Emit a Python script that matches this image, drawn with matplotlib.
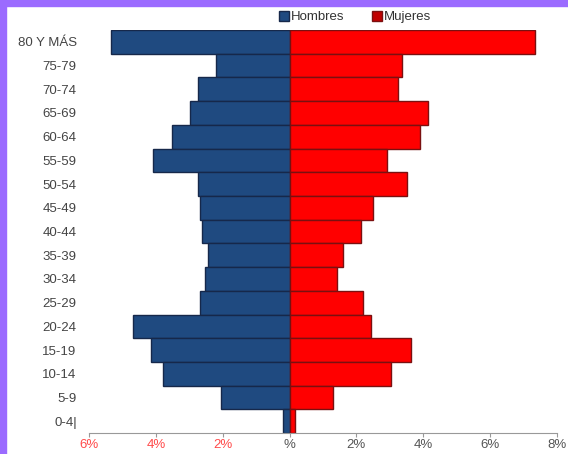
import matplotlib.pyplot as plt
from matplotlib.patches import Rectangle, Patch

plt.rcParams['font.family'] = ['Liberation Sans', 'DejaVu Sans']

age_groups = ["80 Y MÁS", "75-79", "70-74", "65-69", "60-64", "55-59", "50-54",
              "45-49", "40-44", "35-39", "30-34", "25-29", "20-24", "15-19",
              "10-14", "5-9", "0-4|"]
hombres = [5.36, 2.19, 2.75, 2.99, 3.53, 4.10, 2.75, 2.69, 2.63, 2.43, 2.54,
           2.69, 4.70, 4.16, 3.80, 2.04, 0.21]
mujeres = [7.34, 3.38, 3.26, 4.16, 3.92, 2.93, 3.53, 2.51, 2.13, 1.59, 1.41,
           2.19, 2.43, 3.65, 3.05, 1.29, 0.15]
x_ticks = [-6, -4, -2, 0, 2, 4, 6, 8]
x_labels = ["6%", "4%", "2%", "%", "2%", "4%", "6%", "8%"]

blue = "#1f4a80"
red = "#ff0000"

fig = plt.figure(figsize=(5.68, 4.54), dpi=100)
ax = fig.add_axes([0.157, 0.046, 0.823, 0.888])

y = list(range(len(age_groups)))[::-1]
ax.barh(y, [-v for v in hombres], height=1.0, color=blue,
        edgecolor="#16284a", linewidth=1.0, label="Hombres")
ax.barh(y, mujeres, height=1.0, color=red,
        edgecolor="#7a1010", linewidth=1.0, label="Mujeres")

ax.set_xlim(-6, 8)
ax.set_ylim(-0.5, len(age_groups) - 0.5)
ax.set_yticks(y)
ax.set_yticklabels(age_groups, fontsize=9.5, color="#444444")
ax.tick_params(axis="y", length=0, pad=9)

ax.set_xticks(x_ticks)
ax.set_xticklabels(x_labels, fontsize=9.5)
for lbl, v in zip(ax.get_xticklabels(), x_ticks):
    lbl.set_color("#ff4a4a" if v < 0 else "#555555")
ax.tick_params(axis="x", length=3, color="#999999", pad=1)

for side in ["top", "right", "left"]:
    ax.spines[side].set_visible(False)
ax.spines["bottom"].set_color("#999999")

handles = [Patch(facecolor=blue, edgecolor="#16284a", label="Hombres"),
           Patch(facecolor="#c00000", edgecolor="#7a1010", label="Mujeres")]
fig.legend(handles=handles, loc="center", bbox_to_anchor=(0.625, 0.962), ncol=2,
           frameon=False, fontsize=9.5, handlelength=0.75, handleheight=0.75,
           handletextpad=0.15, columnspacing=2.1, labelcolor="#333333")

# purple frame strips from the screenshot
purple = "#9b6bff"
fig.patches.append(Rectangle((0, 0), 6 / 568, 1, transform=fig.transFigure,
                             color=purple, zorder=10))
fig.patches.append(Rectangle((0, 1 - 6 / 454), 1, 6 / 454, transform=fig.transFigure,
                             color=purple, zorder=10))

fig.savefig("out.png", dpi=100)
